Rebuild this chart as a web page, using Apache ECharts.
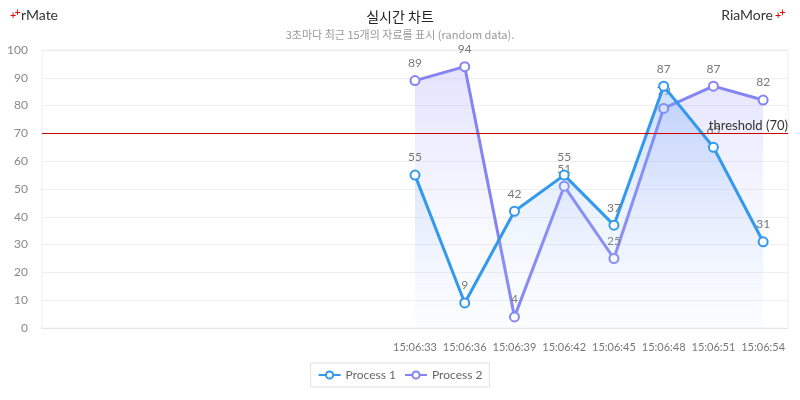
<!DOCTYPE html>
<html>
<head>
<meta charset="utf-8">
<script src="https://cdn.jsdelivr.net/npm/echarts@6/dist/echarts.min.js"></script>
<style>
html,body{margin:0;padding:0;background:#fff;}
#chart{width:800px;height:400px;}
</style>
</head>
<body>
<div id="chart"></div>
<script>
var categories = ['', '', '', '', '', '', '', '15:06:33', '15:06:36', '15:06:39', '15:06:42', '15:06:45', '15:06:48', '15:06:51', '15:06:54'];
var process1 = [null, null, null, null, null, null, null, 55, 9, 42, 55, 37, 87, 65, 31];
var process2 = [null, null, null, null, null, null, null, 89, 94, 4, 51, 25, 79, 87, 82];
var yTicks = [0, 10, 20, 30, 40, 50, 60, 70, 80, 90, 100];
var thresholdValue = 70;

var FONT = 'Lato, "Noto Sans CJK KR", sans-serif';
var KFONT = '"Noto Sans CJK KR", sans-serif';
var chart = echarts.init(document.getElementById('chart'));

function grad(c1, c2) {
  return new echarts.graphic.LinearGradient(0, 0, 0, 1, [
    {offset: 0, color: c1}, {offset: 1, color: c2}
  ]);
}
function plus(x, y) {
  return {
    type: 'text', x: x, y: y, z: 10,
    style: {text: '+', fontSize: 8, fontWeight: 'bold', fontFamily: 'DejaVu Sans', fill: '#e00', align: 'center', verticalAlign: 'middle'}
  };
}

chart.setOption({
  animation: false,
  textStyle: {fontFamily: FONT},
  title: {
    text: '실시간 차트',
    subtext: '3초마다 최근 15개의 자료를 표시 (random data).',
    left: 'center',
    top: 5,
    itemGap: 5,
    textStyle: {fontFamily: KFONT, fontSize: 14, fontWeight: 'normal', color: '#222'},
    subtextStyle: {fontFamily: KFONT, fontSize: 11, color: '#999'}
  },
  graphic: [
    plus(13, 16), plus(17.5, 13),
    {
      type: 'text', left: 21, top: 8,
      style: {text: 'rMate', fontFamily: FONT, fontSize: 14, fill: '#333'}
    },
    plus(778, 16), plus(782.5, 13),
    {
      type: 'text', right: 27, top: 8,
      style: {text: 'RiaMore', fontFamily: FONT, fontSize: 14, fill: '#333'}
    }
  ],
  legend: {
    bottom: 13,
    left: 'center',
    borderColor: '#e0e0e0',
    borderWidth: 1,
    padding: [6, 7],
    itemWidth: 22,
    itemHeight: 9,
    itemGap: 8,
    textStyle: {fontFamily: FONT, fontSize: 12, color: '#666'},
    data: ['Process 1', 'Process 2']
  },
  grid: {
    left: 42, right: 12, top: 50, bottom: 72,
    show: true, borderColor: '#eee', borderWidth: 1
  },
  xAxis: {
    type: 'category',
    boundaryGap: true,
    data: categories,
    axisLine: {lineStyle: {color: '#e6e6e6'}},
    axisTick: {show: false},
    axisLabel: {color: '#777', fontSize: 11, margin: 14, interval: 0, fontFamily: FONT},
    splitLine: {show: false}
  },
  yAxis: {
    type: 'value',
    min: yTicks[0], max: yTicks[yTicks.length - 1], interval: 10,
    axisLine: {show: false},
    axisTick: {show: false},
    axisLabel: {color: '#888', fontSize: 12, margin: 14, fontFamily: FONT},
    splitLine: {lineStyle: {color: '#eee'}}
  },
  series: [
    {
      name: 'Process 1',
      type: 'line',
      data: process1,
      connectNulls: false,
      symbol: 'emptyCircle',
      symbolSize: 9,
      z: 3,
      lineStyle: {width: 3, color: '#3399ec'},
      itemStyle: {color: '#3399ec', borderWidth: 2},
      areaStyle: {color: grad('rgba(110,160,245,0.5)', 'rgba(200,225,255,0.05)')},
      label: {show: true, position: 'top', color: '#777', fontSize: 12, distance: 6, fontFamily: FONT}
    },
    {
      name: 'Process 2',
      type: 'line',
      data: process2,
      connectNulls: false,
      symbol: 'emptyCircle',
      symbolSize: 9,
      z: 2,
      lineStyle: {width: 3, color: '#8484f2'},
      itemStyle: {color: '#8484f2', borderWidth: 2},
      areaStyle: {color: grad('rgba(175,175,250,0.5)', 'rgba(225,230,255,0.05)')},
      label: {show: true, position: 'top', color: '#777', fontSize: 12, distance: 6, fontFamily: FONT},
      markLine: {
        silent: true,
        symbol: 'none',
        lineStyle: {color: '#c00', width: 1, type: 'solid'},
        label: {show: true, position: 'insideEndTop', formatter: 'threshold (' + thresholdValue + ')', color: '#333', fontSize: 13, distance: [0, 1], fontFamily: FONT},
        data: [{yAxis: thresholdValue}]
      }
    }
  ]
});
</script>
</body>
</html>
